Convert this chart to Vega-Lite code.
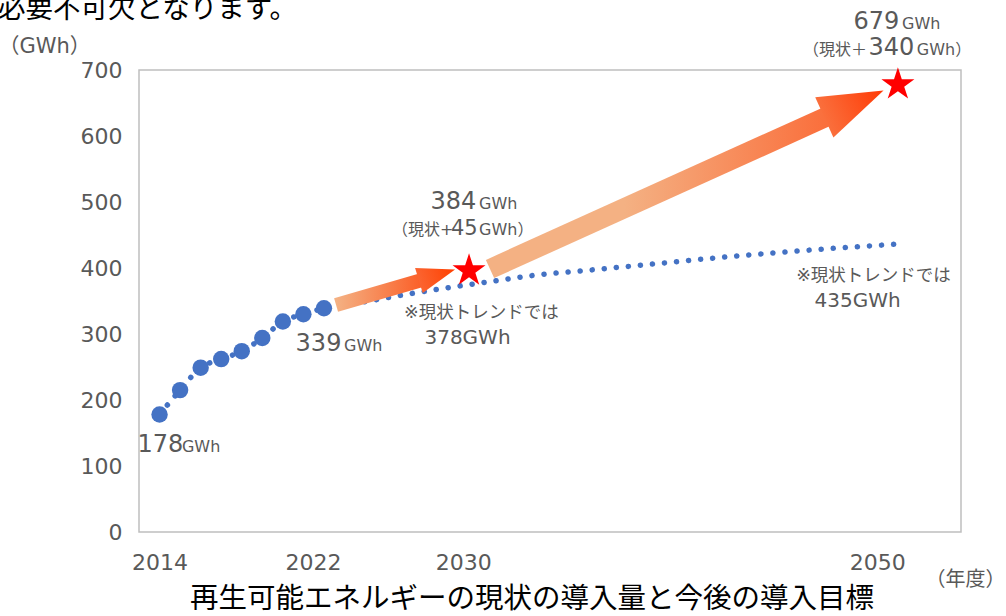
{
  "$schema": "https://vega.github.io/schema/vega-lite/v6.json",
  "width": 822,
  "height": 462,
  "autosize": {"type": "none"},
  "padding": {"left": 139, "top": 70, "right": 45, "bottom": 84},
  "background": "white",
  "config": {
    "view": {"stroke": "#BFBFBF", "strokeWidth": 1.5},
    "font": "DejaVu Sans, Noto Sans CJK JP"
  },
  "datasets": {
    "series": [
      {"kind": "actual", "year": 2014, "value": 178},
      {"kind": "actual", "year": 2015, "value": 215},
      {"kind": "actual", "year": 2016, "value": 249},
      {"kind": "actual", "year": 2017, "value": 262},
      {"kind": "actual", "year": 2018, "value": 274},
      {"kind": "actual", "year": 2019, "value": 294},
      {"kind": "actual", "year": 2020, "value": 319},
      {"kind": "actual", "year": 2021, "value": 330},
      {"kind": "actual", "year": 2022, "value": 339},
      {"kind": "trend", "year": 2024, "value": 349},
      {"kind": "trend", "year": 2026, "value": 360},
      {"kind": "trend", "year": 2028, "value": 370},
      {"kind": "trend", "year": 2030, "value": 379},
      {"kind": "trend", "year": 2032, "value": 388},
      {"kind": "trend", "year": 2035, "value": 397},
      {"kind": "trend", "year": 2038, "value": 406},
      {"kind": "trend", "year": 2042, "value": 418},
      {"kind": "trend", "year": 2046, "value": 428},
      {"kind": "trend", "year": 2049.8, "value": 436}
    ],
    "arrows": [
      {"arrow": "a1", "year": 2022.59, "value": 343.9},
      {"arrow": "a1", "year": 2026.77, "value": 381.8},
      {"arrow": "a2", "year": 2030.08, "value": 398.5},
      {"arrow": "a2", "year": 2046.43, "value": 628.8}
    ],
    "heads": [
      {"arrow": "a1", "year": 2027.5, "value": 389.4},
      {"arrow": "a2", "year": 2047.79, "value": 648.5}
    ],
    "stars": [
      {"target": "2030", "year": 2029.06, "value": 396},
      {"target": "2050", "year": 2049.93, "value": 677.9}
    ],
    "labels": [
      {"role": "num", "text": "178", "year": 2012.93, "value": 121.7},
      {"role": "unit", "text": "GWh", "year": 2015.09, "value": 121.7},
      {"role": "num", "text": "339", "year": 2020.62, "value": 274.7},
      {"role": "unit", "text": "GWh", "year": 2022.98, "value": 274.7},
      {"role": "num", "text": "384", "year": 2027.18, "value": 489.4},
      {"role": "unit", "text": "GWh", "year": 2029.55, "value": 489.4},
      {"role": "unit", "text": "（現状+", "year": 2025.31, "value": 450},
      {"role": "mid", "text": "45", "year": 2028.18, "value": 450},
      {"role": "unit", "text": "GWh）", "year": 2029.55, "value": 450},
      {"role": "note", "text": "※現状トレンドでは", "year": 2025.9, "value": 324.2},
      {"role": "note2", "text": "378GWh", "year": 2026.89, "value": 284.8},
      {"role": "num", "text": "679", "year": 2047.77, "value": 761.7},
      {"role": "unit", "text": "GWh", "year": 2050.13, "value": 761.7},
      {"role": "unit", "text": "（現状＋", "year": 2045.31, "value": 722.7},
      {"role": "num", "text": "340", "year": 2048.5, "value": 722.7},
      {"role": "unit", "text": "GWh）", "year": 2050.85, "value": 722.7},
      {"role": "note", "text": "※現状トレンドでは", "year": 2044.98, "value": 380},
      {"role": "note2", "text": "435GWh", "year": 2045.87, "value": 341.4},
      {"role": "title", "text": "再生可能エネルギーの現状の導入量と今後の導入目標", "year": 2015.48, "value": -115.9},
      {"role": "top", "text": "必要不可欠となります。", "year": 2006.14, "value": 778.8}
    ]
  },
  "encoding": {
    "x": {
      "field": "year",
      "type": "quantitative",
      "scale": {"domain": [2013, 2053], "nice": false, "zero": false},
      "axis": {
        "values": [2014, 2022, 2030, 2050],
        "format": "d",
        "grid": false,
        "ticks": false,
        "tickSize": 0,
        "domain": false,
        "labelFontSize": 22,
        "labelColor": "#595959",
        "labelBaseline": "alphabetic",
        "labelPadding": 37,
        "labelFlush": false,
        "labelOverlap": false,
        "labelOffset": {
          "condition": [
            {"test": "datum.value == 2022", "value": -11},
            {"test": "datum.value == 2030", "value": -25},
            {"test": "datum.value == 2050", "value": -22}
          ],
          "value": 0
        },
        "title": "（年度）",
        "titleFontSize": 20,
        "titleFontWeight": "normal",
        "titleColor": "#595959",
        "titleAngle": 0,
        "titleAlign": "left",
        "titleBaseline": "alphabetic",
        "titleX": 786,
        "titleY": 53
      }
    },
    "y": {
      "field": "value",
      "type": "quantitative",
      "scale": {"domain": [0, 700], "nice": false},
      "axis": {
        "values": [0, 100, 200, 300, 400, 500, 600, 700],
        "grid": false,
        "ticks": false,
        "tickSize": 0,
        "domain": false,
        "labelFontSize": 22,
        "labelColor": "#595959",
        "labelPadding": 17,
        "title": "（GWh）",
        "titleFontSize": 21,
        "titleFontWeight": "normal",
        "titleColor": "#595959",
        "titleAngle": 0,
        "titleAlign": "left",
        "titleBaseline": "alphabetic",
        "titleX": -141,
        "titleY": -18
      }
    }
  },
  "layer": [
    {
      "data": {"name": "series"},
      "mark": {"type": "line", "color": "#4472C4", "strokeWidth": 5.5, "strokeDash": [0.1, 12], "strokeCap": "round", "interpolate": "monotone"},
      "encoding": {}
    },
    {
      "data": {"name": "series"},
      "transform": [{"filter": "datum.kind == 'actual'"}],
      "mark": {"type": "point", "filled": true, "color": "#4472C4", "opacity": 1, "size": 270, "strokeWidth": 0}
    },
    {
      "data": {"name": "arrows"},
      "transform": [{"filter": "datum.arrow == 'a1'"}],
      "mark": {
        "type": "line",
        "strokeWidth": 14,
        "strokeCap": "butt",
        "stroke": {"gradient": "linear", "x1": 0, "y1": 0, "x2": 1, "y2": 0, "stops": [{"offset": 0, "color": "#F4B183"}, {"offset": 1, "color": "#FB5F28"}]}
      },
      "encoding": {}
    },
    {
      "data": {"name": "arrows"},
      "transform": [{"filter": "datum.arrow == 'a2'"}],
      "mark": {
        "type": "line",
        "strokeWidth": 20,
        "strokeCap": "butt",
        "stroke": {"gradient": "linear", "x1": 0, "y1": 0, "x2": 1, "y2": 0, "stops": [{"offset": 0, "color": "#F4B183"}, {"offset": 0.4, "color": "#F4B183"}, {"offset": 1, "color": "#FA6F3C"}]}
      },
      "encoding": {}
    },
    {
      "data": {"name": "heads"},
      "transform": [{"filter": "datum.arrow == 'a1'"}],
      "mark": {
        "type": "point",
        "shape": "M1,0L-1,-0.69L-1,0.69Z",
        "size": 1429,
        "angle": 343,
        "filled": true,
        "opacity": 1,
        "strokeWidth": 0,
        "fill": {"gradient": "linear", "x1": 0, "y1": 0, "x2": 1, "y2": 0, "stops": [{"offset": 0, "color": "#FB6430"}, {"offset": 1, "color": "#FF4000"}]}
      }
    },
    {
      "data": {"name": "heads"},
      "transform": [{"filter": "datum.arrow == 'a2'"}],
      "mark": {
        "type": "point",
        "shape": "M1,0L-1,-0.68L-1,0.68Z",
        "size": 4225,
        "angle": 335.7,
        "filled": true,
        "opacity": 1,
        "strokeWidth": 0,
        "fill": {"gradient": "linear", "x1": 0, "y1": 0, "x2": 1, "y2": 0, "stops": [{"offset": 0, "color": "#FA6F3C"}, {"offset": 1, "color": "#FF3A05"}]}
      }
    },
    {
      "data": {"name": "stars"},
      "mark": {
        "type": "point",
        "shape": "M0,-1L0.2245,-0.309L0.951,-0.309L0.363,0.118L0.588,0.809L0,0.382L-0.588,0.809L-0.363,0.118L-0.951,-0.309L-0.2245,-0.309Z",
        "size": 1204,
        "filled": true,
        "opacity": 1,
        "color": "#FF0000",
        "strokeWidth": 0
      }
    },
    {
      "data": {"name": "labels"},
      "transform": [{"filter": "datum.role == 'num'"}],
      "mark": {"type": "text", "align": "left", "baseline": "alphabetic", "fontSize": 24, "color": "#595959"},
      "encoding": {"text": {"field": "text"}}
    },
    {
      "data": {"name": "labels"},
      "transform": [{"filter": "datum.role == 'mid'"}],
      "mark": {"type": "text", "align": "left", "baseline": "alphabetic", "fontSize": 21, "color": "#595959"},
      "encoding": {"text": {"field": "text"}}
    },
    {
      "data": {"name": "labels"},
      "transform": [{"filter": "datum.role == 'unit'"}],
      "mark": {"type": "text", "align": "left", "baseline": "alphabetic", "fontSize": 16, "color": "#595959"},
      "encoding": {"text": {"field": "text"}}
    },
    {
      "data": {"name": "labels"},
      "transform": [{"filter": "datum.role == 'note'"}],
      "mark": {"type": "text", "align": "left", "baseline": "alphabetic", "fontSize": 17.5, "color": "#595959"},
      "encoding": {"text": {"field": "text"}}
    },
    {
      "data": {"name": "labels"},
      "transform": [{"filter": "datum.role == 'note2'"}],
      "mark": {"type": "text", "align": "left", "baseline": "alphabetic", "fontSize": 20, "color": "#595959"},
      "encoding": {"text": {"field": "text"}}
    },
    {
      "data": {"name": "labels"},
      "transform": [{"filter": "datum.role == 'title'"}],
      "mark": {"type": "text", "align": "left", "baseline": "alphabetic", "fontSize": 28.5, "font": "Noto Sans CJK JP", "color": "#000000"},
      "encoding": {"text": {"field": "text"}}
    },
    {
      "data": {"name": "labels"},
      "transform": [{"filter": "datum.role == 'top'"}],
      "mark": {"type": "text", "align": "left", "baseline": "alphabetic", "fontSize": 27.5, "font": "Noto Sans CJK JP", "color": "#000000"},
      "encoding": {"text": {"field": "text"}}
    }
  ]
}
